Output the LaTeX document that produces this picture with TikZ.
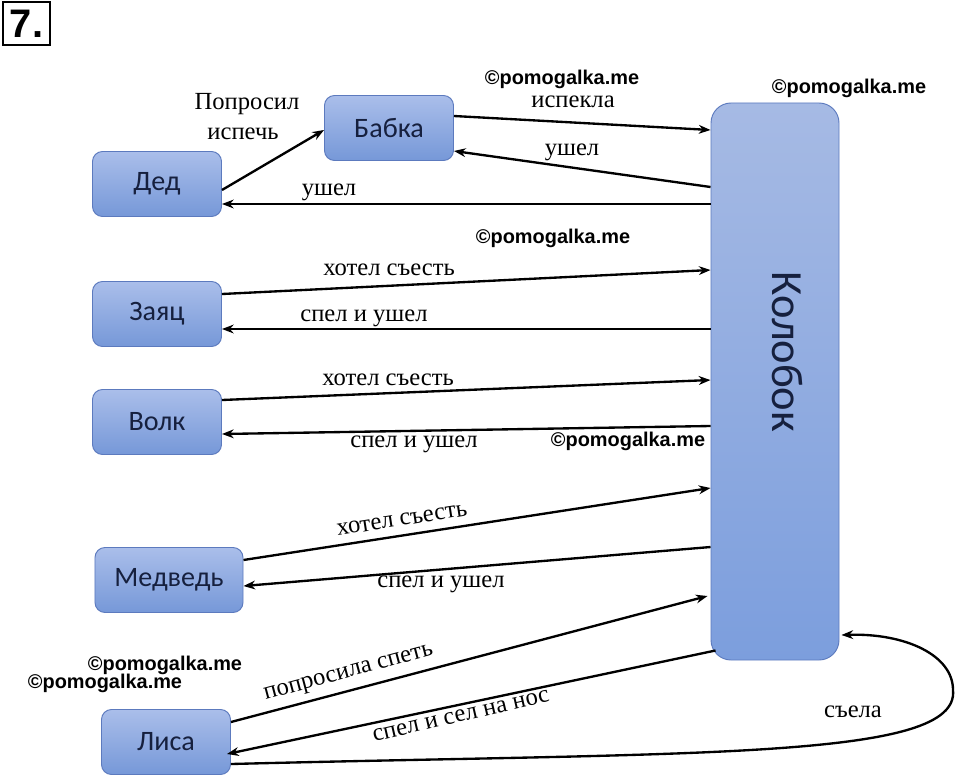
\documentclass[tikz,border=0pt]{standalone}
\usepackage{fontspec}
\setmainfont{Liberation Serif}
\newfontfamily\boxfont{Carlito}
\newfontfamily\wmfont{Liberation Sans}
\usetikzlibrary{arrows.meta,calc}
\definecolor{boxtop}{RGB}{170,190,234}
\definecolor{boxbot}{RGB}{118,152,216}
\definecolor{boxedge}{RGB}{92,122,190}
\definecolor{boxtext}{RGB}{22,32,62}
\definecolor{koltop}{RGB}{166,186,228}
\definecolor{kolbot}{RGB}{124,158,221}
\tikzset{
  box/.style={draw=boxedge, line width=0.8pt, rounded corners=0.3cm,
    top color=boxtop, bottom color=boxbot, minimum width=3.87cm,
    minimum height=1.95cm, font=\boxfont\fontsize{24}{28}\selectfont, text=boxtext},
  lbl/.style={font=\fontsize{21}{25}\selectfont, inner sep=0pt},
  wm/.style={font=\wmfont\bfseries\fontsize{17}{20}\selectfont, inner sep=0pt},
  arr/.style={-{Stealth[length=10pt,width=7.5pt]}, line width=2pt}
}
\begin{document}
\begin{tikzpicture}[x=0.03cm,y=0.03cm]
\useasboundingbox (0,0) rectangle (960,-780);
% title number
\node[draw, line width=2pt, minimum width=1.41cm, minimum height=1.29cm, inner sep=0pt,
  font=\wmfont\bfseries\fontsize{34}{34}\selectfont] (num) at (26.5,-23.5) {7.};
% boxes
\node[box] (ded) at (157,-184) {Дед};
\node[box] (babka) at (389,-128) {Бабка};
\node[box] (zayac) at (157,-314) {Заяц};
\node[box] (volk) at (157,-422) {Волк};
\node[box, minimum width=4.44cm] (medved) at (169,-580) {Медведь};
\node[box] (lisa) at (166,-742) {Лиса};
\node[box, minimum width=3.84cm, minimum height=16.71cm, rounded corners=0.6cm,
  top color=koltop, bottom color=kolbot] (kol) at (775,-381.5) {};
\node[rotate=-90, font=\boxfont\fontsize{38}{40}\selectfont, text=boxtext, inner sep=0pt]
  (koltext) at (787,-352) {Колобок};
% watermarks
\node[wm] (w1) at (562,-79) {©pomogalka.me};
\node[wm] (w2) at (849,-88) {©pomogalka.me};
\node[wm] (w3) at (553,-238) {©pomogalka.me};
\node[wm] (w4) at (628,-441) {©pomogalka.me};
\node[wm] (w5) at (165,-665) {©pomogalka.me};
\node[wm] (w6) at (105,-683) {©pomogalka.me};
% arrows
\draw[arr] (ded.east |- 0,-190) -- (babka.west |- 0,-130);
\draw[arr] (babka.east |- 0,-116) -- (kol.west |- 0,-130);
\draw[arr] (kol.west |- 0,-187) -- (babka.east |- 0,-151);
\draw[arr] (kol.west |- 0,-204) -- (ded.east |- 0,-204);
\draw[arr] (zayac.east |- 0,-294) -- (kol.west |- 0,-270);
\draw[arr] (kol.west |- 0,-329) -- (zayac.east |- 0,-329);
\draw[arr] (volk.east |- 0,-400) -- (kol.west |- 0,-380);
\draw[arr] (kol.west |- 0,-426) -- (volk.east |- 0,-434);
\draw[arr] (medved.east |- 0,-560) -- (kol.west |- 0,-488);
\draw[arr] (kol.west |- 0,-547) -- (medved.east |- 0,-586);
\draw[arr] (lisa.east |- 0,-722) -- ($(kol.west |- 0,-596)+(-3,0)$);
\draw[arr] ($(kol.south west)+(5,10)$) -- ($(lisa.east |- 0,-754)+(-4,0)$);
\draw[arr] (lisa.east |- 0,-764) .. controls (700,-752) and (960,-760) .. (953,-690)
  .. controls (953,-655) and (905,-633) .. ($(kol.east |- 0,-635)+(2,0)$);
% labels
\node[lbl] (l1) at (247,-104) {Попросил};
\node[lbl] (l2) at (243,-134) {испечь};
\node[lbl] (l3) at (573,-102) {испекла};
\node[lbl] (l4) at (572,-152) {ушел};
\node[lbl] (l5) at (329,-192) {ушел};
\node[lbl] (l6) at (389,-270) {хотел съесть};
\node[lbl] (l7) at (364,-318) {спел и ушел};
\node[lbl] (l8) at (388,-380) {хотел съесть};
\node[lbl] (l9) at (414,-444) {спел и ушел};
\node[lbl, rotate=8.8] (l10) at (402,-520) {хотел съесть};
\node[lbl] (l11) at (441,-584) {спел и ушел};
\node[lbl, rotate=15] (l12) at (349,-674) {попросила спеть};
\node[lbl, rotate=13] (l13) at (461,-716) {спел и сел на нос};
\node[lbl] (l14) at (853,-712) {съела};
\end{tikzpicture}
\end{document}
